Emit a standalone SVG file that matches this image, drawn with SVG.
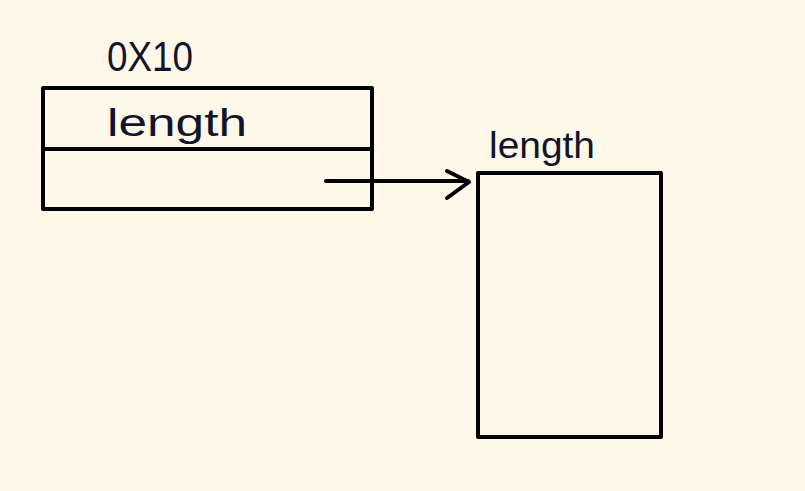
<svg xmlns="http://www.w3.org/2000/svg" width="805" height="491" viewBox="0 0 805 491">
<style>
.box{fill:none;stroke:#000;stroke-width:4;stroke-linejoin:round}
.ln{fill:none;stroke:#000;stroke-width:4;stroke-linecap:round;stroke-linejoin:round}
.t{font-family:"Liberation Sans",Arial,sans-serif;fill:#141428;font-weight:normal}
</style>
<rect width="805" height="491" fill="#fdf8ea"/>
<g id="node-struct">
<text class="t" x="107" y="71" font-size="42" textLength="86" lengthAdjust="spacingAndGlyphs">0X10</text>
<rect class="box" x="43" y="88" width="329" height="121"/>
<line class="ln" x1="43" y1="149" x2="372" y2="149"/>
<text class="t" x="107" y="136" font-size="38" textLength="140" lengthAdjust="spacingAndGlyphs">length</text>
</g>
<g id="node-buffer">
<text class="t" x="489" y="158" font-size="36" textLength="106" lengthAdjust="spacingAndGlyphs">length</text>
<rect class="box" x="478" y="173" width="183" height="264"/>
</g>
<g id="connectors">
<line class="ln" x1="326" y1="181" x2="468" y2="181"/>
<polyline class="ln" points="447,171 469,182 447,198"/>
</g>
</svg>
